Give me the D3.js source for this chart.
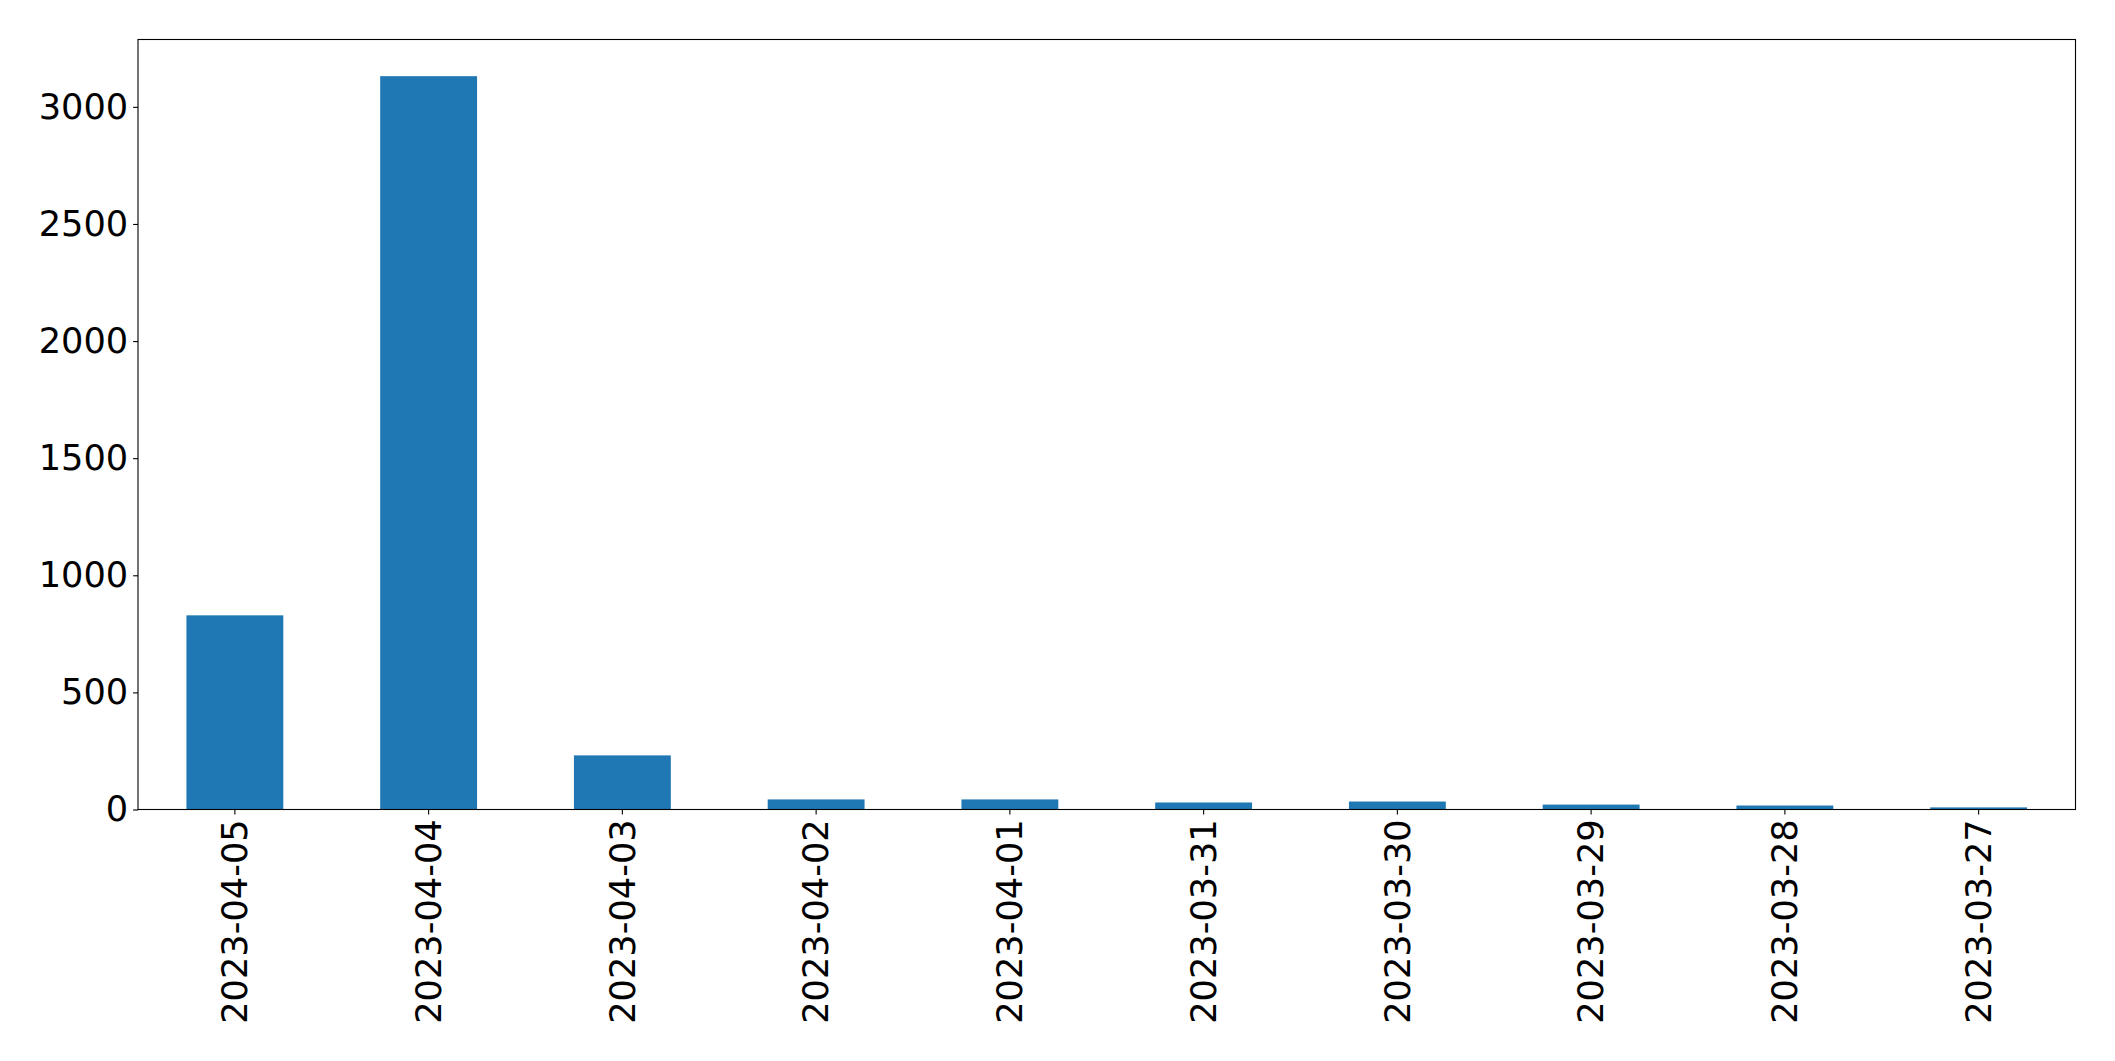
<!DOCTYPE html>
<html>
<head>
<meta charset="utf-8">
<script src="https://cdn.jsdelivr.net/npm/d3@7"></script>
<style>
  html, body { margin: 0; padding: 0; background: #ffffff; }
  svg { display: block; }
</style>
</head>
<body>
<svg id="chart" width="2115" height="1061"></svg>
<script>
const categories = ["2023-04-05", "2023-04-04", "2023-04-03", "2023-04-02", "2023-04-01",
                    "2023-03-31", "2023-03-30", "2023-03-29", "2023-03-28", "2023-03-27"];
const counts = [829, 3131, 231, 43, 43, 30, 34, 21, 17, 9];
const yTicks = [0, 500, 1000, 1500, 2000, 2500, 3000];

const W = 2115, H = 1061;
const margin = { left: 138, right: W - 2075.5, top: 39.5, bottom: H - 809.5 };
const iw = W - margin.left - margin.right;
const ih = H - margin.top - margin.bottom;
const fontSize = 35.2;
const tickLen = 4.9, tickPad = 4.9;

const svg = d3.select("#chart");
const g = svg.append("g").attr("transform", `translate(${margin.left},${margin.top})`);

const x = d3.scaleBand().domain(categories).range([0, iw]).paddingInner(0.5).paddingOuter(0.25);
const y = d3.scaleLinear().domain([0, d3.max(counts) * 1.05]).range([ih, 0]);

const data = categories.map((c, i) => ({ c, v: counts[i] }));

g.selectAll("rect.bar").data(data).enter().append("rect")
  .attr("class", "bar")
  .attr("x", d => x(d.c))
  .attr("width", x.bandwidth())
  .attr("y", d => y(d.v))
  .attr("height", d => ih - y(d.v))
  .attr("fill", "#1f77b4");

// Y axis
const yAxis = g.append("g")
  .call(d3.axisLeft(y).tickValues(yTicks).tickFormat(d3.format("d")).tickSize(tickLen).tickPadding(tickPad));
yAxis.select(".domain").remove();
yAxis.selectAll(".tick line").attr("stroke", "#000").attr("stroke-width", 1.1);
yAxis.selectAll(".tick text").attr("fill", "#000")
  .style("font-family", "'DejaVu Sans'").style("font-size", fontSize + "px");

// X axis
const xAxis = g.append("g").attr("transform", `translate(0,${ih})`)
  .call(d3.axisBottom(x).tickSize(tickLen).tickPadding(tickPad));
xAxis.select(".domain").remove();
xAxis.selectAll(".tick line").attr("stroke", "#000").attr("stroke-width", 1.1);
xAxis.selectAll(".tick text")
  .attr("fill", "#000")
  .style("font-family", "'DejaVu Sans'").style("font-size", fontSize + "px")
  .attr("text-anchor", "end")
  .attr("dy", "0.35em")
  .attr("x", 0)
  .attr("y", 0)
  .attr("transform", `translate(0,${tickLen + tickPad}) rotate(-90)`);

// Frame (spines)
g.append("rect")
  .attr("x", 0).attr("y", 0).attr("width", iw).attr("height", ih)
  .attr("fill", "none").attr("stroke", "#000").attr("stroke-width", 1.1);
</script>
</body>
</html>
